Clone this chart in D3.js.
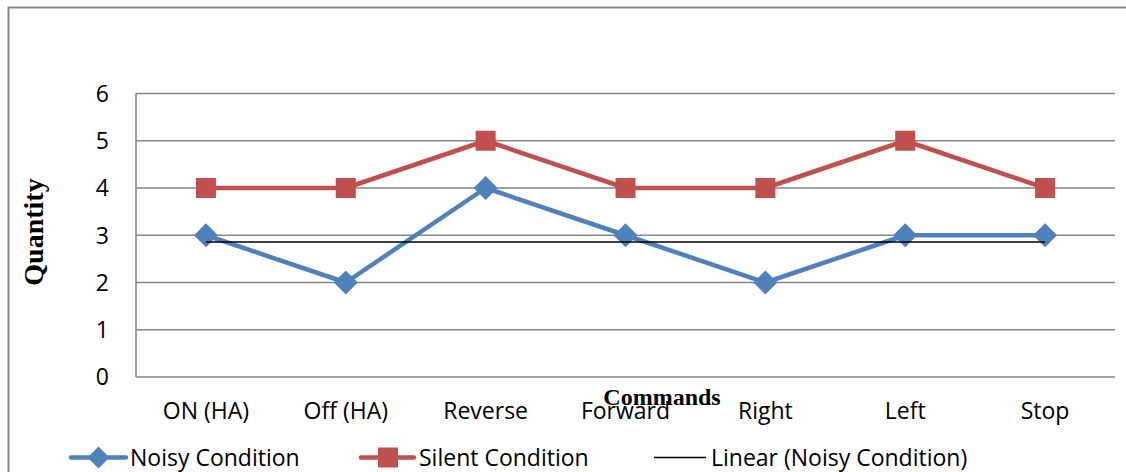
<!DOCTYPE html>
<html><head><meta charset="utf-8">
<script src="https://cdn.jsdelivr.net/npm/d3@7"></script>
<style>body{margin:0;background:#fff}svg{display:block}</style>
</head><body>
<script>
const categories = ["ON (HA)", "Off (HA)", "Reverse", "Forward", "Right", "Left", "Stop"];
const noisy = [3, 2, 4, 3, 2, 3, 3];
const silent = [4, 4, 5, 4, 4, 5, 4];
const yTicks = [0, 1, 2, 3, 4, 5, 6];
const legendLabels = ["Noisy Condition", "Silent Condition", "Linear (Noisy Condition)"];

const W = 1126, H = 472;
const svg = d3.select("body").append("svg").attr("width", W).attr("height", H);
const font = "'Open Sans', sans-serif";
const fs = 23;
const serif = "'Liberation Serif', 'Times New Roman', serif";

// frame
svg.append("path").attr("d", "M8.5,480 V7.5 H1130").attr("fill", "none").attr("stroke", "#868686").attr("stroke-width", 2);

const pLeft = 136, pRight = 1115, pTop = 93.5, pBottom = 377;
const x = d3.scaleBand().domain(categories).range([pLeft, pRight]);
const y = d3.scaleLinear().domain([0, 6]).range([pBottom, pTop]);

// gridlines
svg.append("g").selectAll("line").data(yTicks).join("line")
  .attr("x1", pLeft).attr("x2", pRight)
  .attr("y1", d => y(d)).attr("y2", d => y(d))
  .attr("stroke", "#868686").attr("stroke-width", 1.6);
svg.append("line").attr("x1", pLeft).attr("x2", pLeft).attr("y1", pTop).attr("y2", pBottom)
  .attr("stroke", "#868686").attr("stroke-width", 1.6);

// y tick labels
svg.append("g").selectAll("text").data(yTicks).join("text")
  .attr("x", 109).attr("y", d => y(d)).attr("dy", "0.36em")
  .attr("text-anchor", "end").attr("font-family", font).attr("font-size", fs)
  .text(d => d);

// x tick labels
svg.append("g").selectAll("text").data(categories).join("text")
  .attr("x", d => x(d) + x.bandwidth() / 2).attr("y", 419)
  .attr("text-anchor", "middle").attr("font-family", font).attr("font-size", fs)
  .text(d => d);

// axis titles
svg.append("text").attr("transform", "translate(43,232) rotate(-90)")
  .attr("text-anchor", "middle").attr("font-family", serif)
  .attr("font-weight", "bold").attr("font-size", 28).text("Quantity");
svg.append("text").attr("x", 662).attr("y", 405)
  .attr("text-anchor", "middle").attr("font-family", serif)
  .attr("font-weight", "bold").attr("font-size", 24).text("Commands");

const cx = (d, i) => x(categories[i]) + x.bandwidth() / 2;
const line = d3.line().x((d, i) => cx(d, i)).y(d => y(d));

const blue = "#4F81BD", red = "#C0504D";

// silent
svg.append("path").datum(silent).attr("d", line).attr("fill", "none")
  .attr("stroke", red).attr("stroke-width", 4.5).attr("stroke-linejoin", "round");
svg.append("g").selectAll("rect").data(silent).join("rect")
  .attr("x", (d, i) => cx(d, i) - 10).attr("y", d => y(d) - 10)
  .attr("width", 20).attr("height", 20).attr("fill", red);

// noisy
svg.append("path").datum(noisy).attr("d", line).attr("fill", "none")
  .attr("stroke", blue).attr("stroke-width", 4.5).attr("stroke-linejoin", "round");
const diamond = (cxv, cyv, r) => `M${cxv},${cyv - r}L${cxv + r},${cyv}L${cxv},${cyv + r}L${cxv - r},${cyv}Z`;
svg.append("g").selectAll("path").data(noisy).join("path")
  .attr("d", (d, i) => diamond(cx(d, i), y(d), 12)).attr("fill", blue);

// linear trend (least squares)
const n = noisy.length;
const xs = d3.range(1, n + 1);
const mx = d3.mean(xs), my = d3.mean(noisy);
const slope = d3.sum(xs, (v, i) => (v - mx) * (noisy[i] - my)) / d3.sum(xs, v => (v - mx) ** 2);
const icpt = my - slope * mx;
svg.append("line")
  .attr("x1", cx(0, 0)).attr("x2", cx(0, n - 1))
  .attr("y1", y(icpt + slope * 1)).attr("y2", y(icpt + slope * n))
  .attr("stroke", "#000").attr("stroke-width", 1.6);

// legend
const ly = 457.5, lt = 466;
const lg = svg.append("g");
lg.append("line").attr("x1", 71).attr("x2", 126).attr("y1", ly).attr("y2", ly).attr("stroke", blue).attr("stroke-width", 4.5).attr("stroke-linecap", "round");
lg.append("path").attr("d", diamond(98.5, ly, 11)).attr("fill", blue);
lg.append("text").attr("x", 130).attr("y", lt).attr("font-family", font).attr("font-size", fs).text(legendLabels[0]);
lg.append("line").attr("x1", 361).attr("x2", 414).attr("y1", ly).attr("y2", ly).attr("stroke", red).attr("stroke-width", 4.5).attr("stroke-linecap", "round");
lg.append("rect").attr("x", 378).attr("y", ly - 10).attr("width", 20).attr("height", 20).attr("fill", red);
lg.append("text").attr("x", 419).attr("y", lt).attr("font-family", font).attr("font-size", fs).text(legendLabels[1]);
lg.append("line").attr("x1", 654).attr("x2", 706).attr("y1", ly).attr("y2", ly).attr("stroke", "#000").attr("stroke-width", 1.6);
lg.append("text").attr("x", 711).attr("y", lt).attr("font-family", font).attr("font-size", fs).text(legendLabels[2]);
</script>
</body></html>
